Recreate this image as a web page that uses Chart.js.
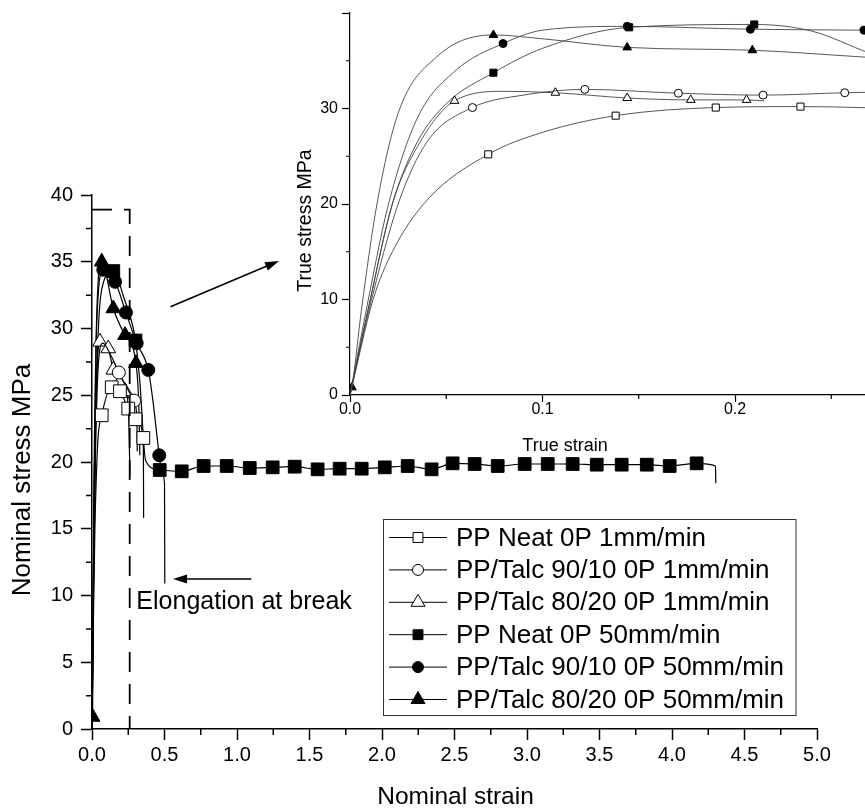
<!DOCTYPE html>
<html>
<head>
<meta charset="utf-8">
<script src="https://cdn.jsdelivr.net/npm/chart.js@4.4.1/dist/chart.umd.min.js"></script>
<style>
  html, body { margin: 0; padding: 0; background: #fff; overflow: hidden; }
  #wrap { position: relative; width: 865px; height: 812px; overflow: hidden; }
  #main { position: absolute; left: 0; top: 0; }
  #inset { position: absolute; left: 280px; top: 0; }
</style>
</head>
<body>
<div id="wrap">
  <canvas id="main" width="865" height="812"></canvas>
  <canvas id="inset" width="660" height="470"></canvas>
</div>
<script>
// --- series names / marker styles (legend order) ---
const seriesLabels = ['PP Neat 0P 1mm/min', 'PP/Talc 90/10 0P 1mm/min', 'PP/Talc 80/20 0P 1mm/min',
                      'PP Neat 0P 50mm/min', 'PP/Talc 90/10 0P 50mm/min', 'PP/Talc 80/20 0P 50mm/min'];
const seriesMarkers = ['rect', 'circle', 'triangle', 'rect', 'circle', 'triangle'];
const seriesFilled = [false, false, false, true, true, true];

// --- main chart: nominal strain / nominal stress (MPa) ---
const neat1Strain = [0, 0.008, 0.02, 0.04, 0.067, 0.136, 0.193, 0.25, 0.30, 0.354, 0.356];
const neat1Stress = [0, 7, 15, 21.5, 23.5, 25.6, 25.3, 24.0, 23.2, 21.8, 15.8];
const neat1Marks = [4, 5, 6, 7, 8, 9];

const talc90s1Strain = [0, 0.01, 0.025, 0.045, 0.075, 0.13, 0.185, 0.24, 0.29, 0.31, 0.312];
const talc90s1Stress = [0, 10, 21, 27.5, 28.9, 28.0, 26.7, 25.6, 24.6, 23.2, 20.8];
const talc90s1Marks = [6, 8];

const talc80s1Strain = [0, 0.01, 0.025, 0.055, 0.112, 0.147, 0.188, 0.228, 0.25, 0.262];
const talc80s1Stress = [0, 11, 23, 29.0, 28.5, 26.9, 25.9, 25.3, 24.3, 19];
const talc80s1Marks = [3, 4, 5, 6, 7];

const neat50Strain = [0, 0.004, 0.015, 0.04, 0.08, 0.147, 0.22, 0.30, 0.33, 0.37,
  0.467, 0.619, 0.770, 0.929, 1.088, 1.246, 1.398, 1.556, 1.708, 1.860, 2.019, 2.177,
  2.342, 2.487, 2.639, 2.798, 2.984, 3.143, 3.315, 3.481, 3.653, 3.826, 3.984, 4.170, 4.30, 4.302];
const neat50Stress = [0, 4, 18, 29, 33.5, 34.3, 32.3, 29.1, 26.0, 20.1,
  19.4, 19.3, 19.7, 19.7, 19.55, 19.6, 19.65, 19.45, 19.5, 19.5, 19.6, 19.7,
  19.45, 19.9, 19.85, 19.7, 19.85, 19.85, 19.85, 19.8, 19.8, 19.8, 19.7, 19.9, 19.7, 18.4];
const neat50Marks = [5, 7, 10, 11, 12, 13, 14, 15, 16, 17, 18, 19, 20, 21, 22, 23, 24, 25, 26, 27, 28, 29, 30, 31, 32, 33];

const talc90s50Strain = [0, 0.004, 0.015, 0.035, 0.078, 0.159, 0.234, 0.308, 0.388, 0.42, 0.464, 0.485, 0.50, 0.502];
const talc90s50Stress = [0, 5, 20, 31, 34.4, 33.5, 31.2, 28.9, 26.9, 24.6, 20.5, 19.1, 18.4, 10.9];
const talc90s50Marks = [4, 5, 6, 7, 8, 10];

const talc80s50Strain = [0, 0.004, 0.012, 0.03, 0.067, 0.147, 0.228, 0.303, 0.325, 0.33];
const talc80s50Stress = [0, 0.9, 15, 30, 35.0, 31.5, 29.5, 27.4, 23.5, 20.5];
const talc80s50Marks = [1, 4, 5, 6, 7];

// --- inset: true strain / true stress (MPa) ---
const tNeat1Strain = [0, 0.012, 0.022, 0.04, 0.0718, 0.10, 0.138, 0.19, 0.234, 0.30];
const tNeat1Stress = [0, 10, 15, 20.4, 25.2, 27.5, 29.25, 30.1, 30.2, 29.9];
const tNeat1Marks = [4, 6, 7, 8];

const tTalc90s1Strain = [0, 0.01, 0.025, 0.04, 0.0636, 0.09, 0.122, 0.1706, 0.2146, 0.257, 0.30];
const tTalc90s1Stress = [0, 9, 20, 26.5, 30.1, 31.4, 32.0, 31.6, 31.4, 31.65, 31.8];
const tTalc90s1Marks = [4, 6, 7, 8, 9];

const tTalc80s1Strain = [0, 0.01, 0.022, 0.035, 0.0543, 0.08, 0.1067, 0.144, 0.177, 0.206, 0.215];
const tTalc80s1Stress = [0, 9.5, 20, 26, 30.8, 31.8, 31.65, 31.1, 30.9, 30.9, 30.8];
const tTalc80s1Marks = [4, 6, 7, 8, 9];

const tNeat50Strain = [0, 0.01, 0.022, 0.035, 0.05, 0.0745, 0.10, 0.145, 0.21, 0.24, 0.27, 0.30];
const tNeat50Stress = [0, 9.5, 20, 26.5, 30.5, 33.75, 36.3, 38.5, 38.8, 38.1, 35.8, 34];
const tNeat50Marks = [5, 7, 8];

const tTalc90s50Strain = [0, 0.01, 0.02, 0.035, 0.055, 0.0795, 0.10, 0.144, 0.208, 0.267, 0.30];
const tTalc90s50Stress = [0, 10.5, 20, 29, 34, 36.8, 38.2, 38.6, 38.3, 38.2, 38.1];
const tTalc90s50Marks = [5, 7, 8, 9];

const tTalc80s50Strain = [0, 0.001, 0.006, 0.014, 0.025, 0.045, 0.0745, 0.10, 0.144, 0.209, 0.266, 0.30];
const tTalc80s50Stress = [0, 0.8, 9, 20, 29.5, 35.4, 37.7, 37.3, 36.4, 36.1, 35.4, 35.0];
const tTalc80s50Marks = [1, 6, 8, 9];

// --- annotations (in main-chart data units) ---
const boxStrain = 0.26, boxStress = 38.9;
const arrowUp = [0.541, 31.63, 1.29, 35.06];
const arrowLeft = [1.099, 11.24, 0.559, 11.24];
const breakText = 'Elongation at break';
const breakTextAt = [0.306, 8.96];

const FONT = "'Liberation Sans', Arial, sans-serif";
Chart.defaults.font.family = FONT;
Chart.defaults.color = '#000';

function pts(xs, ys) { return xs.map((x, i) => ({ x: x, y: ys[i] })); }

function makeSet(i, xs, ys, marks, radius, lineColor, lineWidth) {
  const style = seriesMarkers[i];
  return {
    label: seriesLabels[i],
    data: pts(xs, ys),
    borderColor: lineColor,
    borderWidth: lineWidth,
    cubicInterpolationMode: 'monotone',
    pointStyle: style,
    pointRadius: ctx => marks.includes(ctx.dataIndex) ? radius[style] : 0,
    pointHoverRadius: 0,
    pointBackgroundColor: seriesFilled[i] ? '#000' : '#fff',
    pointBorderColor: '#000',
    pointBorderWidth: 1
  };
}

function drawMarker(ctx, style, x, y, r, filled) {
  ctx.beginPath();
  if (style === 'rect') {
    const s = r * Math.SQRT1_2;
    ctx.rect(x - s, y - s, 2 * s, 2 * s);
  } else if (style === 'circle') {
    ctx.arc(x, y, r, 0, Math.PI * 2);
  } else {
    for (let k = 0; k < 3; k++) {
      const a = k * 2 * Math.PI / 3;
      const px = x + Math.sin(a) * r, py = y - Math.cos(a) * r;
      if (k) ctx.lineTo(px, py); else ctx.moveTo(px, py);
    }
    ctx.closePath();
  }
  ctx.fillStyle = filled ? '#000' : '#fff';
  ctx.fill();
  ctx.strokeStyle = '#000';
  ctx.lineWidth = 1;
  ctx.stroke();
}

function arrow(ctx, x1, y1, x2, y2) {
  const a = Math.atan2(y2 - y1, x2 - x1), L = 14, W = 4.5;
  ctx.beginPath();
  ctx.moveTo(x1, y1);
  ctx.lineTo(x2 - Math.cos(a) * L * 0.8, y2 - Math.sin(a) * L * 0.8);
  ctx.stroke();
  ctx.beginPath();
  ctx.moveTo(x2, y2);
  ctx.lineTo(x2 - Math.cos(a) * L + Math.sin(a) * W, y2 - Math.sin(a) * L - Math.cos(a) * W);
  ctx.lineTo(x2 - Math.cos(a) * L - Math.sin(a) * W, y2 - Math.sin(a) * L + Math.cos(a) * W);
  ctx.closePath();
  ctx.fill();
}

function rotatedText(ctx, text, x, y, font) {
  ctx.save();
  ctx.translate(x, y);
  ctx.rotate(-Math.PI / 2);
  ctx.font = font;
  ctx.textAlign = 'center';
  ctx.textBaseline = 'middle';
  ctx.fillText(text, 0, 0);
  ctx.restore();
}

// short unlabelled ticks half-way between the labelled ones
const minorTicks = {
  id: 'minorTicks',
  afterDraw(chart, args, o) {
    const { ctx, scales: { x, y } } = chart;
    ctx.save();
    ctx.strokeStyle = '#000';
    ctx.lineWidth = o.width;
    ctx.beginPath();
    for (let k = 1; k * o.xStep < x.max - 1e-9; k += 2) {
      const px = x.getPixelForValue(k * o.xStep);
      ctx.moveTo(px, y.bottom); ctx.lineTo(px, y.bottom + o.len);
    }
    for (let k = 1; k * o.yStep < y.max - 1e-9; k += 2) {
      const py = y.getPixelForValue(k * o.yStep);
      ctx.moveTo(x.left, py); ctx.lineTo(x.left - o.len, py);
    }
    ctx.stroke();
    ctx.restore();
  }
};

// titles, dashed box, arrows, legend of the main chart
const mainDecor = {
  id: 'mainDecor',
  afterDraw(chart) {
    const { ctx, scales: { x, y } } = chart;
    ctx.save();
    ctx.fillStyle = '#000';
    ctx.strokeStyle = '#000';

    // axis titles
    rotatedText(ctx, 'Nominal stress MPa', 22.5, 480, '26px ' + FONT);
    ctx.font = '24.5px ' + FONT;
    ctx.textAlign = 'center';
    ctx.textBaseline = 'middle';
    ctx.fillText('Nominal strain', (x.left + x.right) / 2 + 1, 797);

    // dashed box around the yield region
    ctx.lineWidth = 1.8;
    ctx.setLineDash([20, 12]);
    ctx.beginPath();
    ctx.moveTo(x.left, y.getPixelForValue(boxStress));
    ctx.lineTo(x.getPixelForValue(boxStrain), y.getPixelForValue(boxStress));
    ctx.lineTo(x.getPixelForValue(boxStrain), y.bottom);
    ctx.stroke();
    ctx.setLineDash([]);

    // arrows
    ctx.lineWidth = 1.5;
    arrow(ctx, x.getPixelForValue(arrowUp[0]), y.getPixelForValue(arrowUp[1]),
               x.getPixelForValue(arrowUp[2]), y.getPixelForValue(arrowUp[3]));
    arrow(ctx, x.getPixelForValue(arrowLeft[0]), y.getPixelForValue(arrowLeft[1]),
               x.getPixelForValue(arrowLeft[2]), y.getPixelForValue(arrowLeft[3]));

    ctx.font = '25px ' + FONT;
    ctx.textAlign = 'left';
    ctx.textBaseline = 'alphabetic';
    ctx.fillText(breakText, x.getPixelForValue(breakTextAt[0]), y.getPixelForValue(breakTextAt[1]));

    // legend
    const lx = 383.5, ly = 519.5, lw = 412.5, lh = 196;
    ctx.fillStyle = '#fff';
    ctx.fillRect(lx, ly, lw, lh);
    ctx.strokeStyle = '#333';
    ctx.lineWidth = 1;
    ctx.strokeRect(lx, ly, lw, lh);
    const legR = { rect: 7, circle: 5.5, triangle: 8 };
    ctx.font = '26px ' + FONT;
    ctx.textBaseline = 'middle';
    seriesLabels.forEach((lab, i) => {
      const ry = 537.5 + i * 32.4;
      ctx.strokeStyle = '#000';
      ctx.lineWidth = 1;
      ctx.beginPath();
      ctx.moveTo(389, ry); ctx.lineTo(447, ry);
      ctx.stroke();
      drawMarker(ctx, seriesMarkers[i], 418, ry, legR[seriesMarkers[i]], seriesFilled[i]);
      ctx.fillStyle = '#000';
      ctx.fillText(lab, 456, ry + 1);
    });
    ctx.restore();
  }
};

const insetDecor = {
  id: 'insetDecor',
  afterDraw(chart) {
    const { ctx } = chart;
    ctx.save();
    ctx.fillStyle = '#000';
    rotatedText(ctx, 'True stress MPa', 306 - 280, 220.5, '19.5px ' + FONT);
    ctx.font = '18px ' + FONT;
    ctx.textAlign = 'center';
    ctx.textBaseline = 'middle';
    ctx.fillText('True strain', 565 - 280, 446);
    ctx.restore();
  }
};

const mainRadius = { rect: 9, circle: 6.5, triangle: 8.5 };
const insetRadius = { rect: 5, circle: 4, triangle: 5 };

const mainData = [
  [neat1Strain, neat1Stress, neat1Marks],
  [talc90s1Strain, talc90s1Stress, talc90s1Marks],
  [talc80s1Strain, talc80s1Stress, talc80s1Marks],
  [neat50Strain, neat50Stress, neat50Marks],
  [talc90s50Strain, talc90s50Stress, talc90s50Marks],
  [talc80s50Strain, talc80s50Stress, talc80s50Marks]
];
const insetData = [
  [tNeat1Strain, tNeat1Stress, tNeat1Marks],
  [tTalc90s1Strain, tTalc90s1Stress, tTalc90s1Marks],
  [tTalc80s1Strain, tTalc80s1Stress, tTalc80s1Marks],
  [tNeat50Strain, tNeat50Stress, tNeat50Marks],
  [tTalc90s50Strain, tTalc90s50Stress, tTalc90s50Marks],
  [tTalc80s50Strain, tTalc80s50Stress, tTalc80s50Marks]
];

function axis(min, max, step, fontSize, tickLen, pad, width, fmt) {
  return {
    type: 'linear', min: min, max: max,
    grid: { drawOnChartArea: false, drawTicks: true, tickLength: tickLen, tickWidth: width, tickColor: '#000' },
    border: { display: true, color: '#000', width: width },
    ticks: { stepSize: step, padding: pad, font: { size: fontSize, lineHeight: 1 }, color: '#000', callback: fmt, maxRotation: 0 }
  };
}

// --- main chart ---
const mainX = axis(0, 5, 0.5, 20, 11, 5, 1.5, v => v.toFixed(1));
mainX.afterFit = s => { s.height = 83; };
const mainY = axis(0, 40, 5, 20, 11, 8, 1.5, v => String(v));
mainY.afterFit = s => { s.width = 92; };

new Chart(document.getElementById('main').getContext('2d'), {
  type: 'line',
  data: { datasets: mainData.map((d, i) => makeSet(i, d[0], d[1], d[2], mainRadius, '#000', 1.2)) },
  options: {
    responsive: false,
    animation: false,
    events: [],
    layout: { padding: { left: 0, right: 48, top: 195, bottom: 0 } },
    scales: { x: mainX, y: mainY },
    plugins: {
      legend: { display: false },
      tooltip: { enabled: false },
      minorTicks: { xStep: 0.25, yStep: 2.5, len: 6, width: 1.5 }
    }
  },
  plugins: [minorTicks, mainDecor]
});

// --- inset chart ---
const insetX = axis(0, 0.3, 0.1, 16, 7, 0, 1.2, v => v.toFixed(1));
insetX.afterFit = s => { s.height = 75; };
const insetY = axis(0, 40, 10, 16, 8, 4, 1.2, v => v === 40 ? '' : String(v));
insetY.afterFit = s => { s.width = 70; };

new Chart(document.getElementById('inset').getContext('2d'), {
  type: 'line',
  data: { datasets: insetData.map((d, i) => makeSet(i, d[0], d[1], d[2], insetRadius, '#444', 0.9)) },
  options: {
    responsive: false,
    animation: false,
    events: [],
    layout: { padding: { left: 0, right: 12.5, top: 13, bottom: 0 } },
    scales: { x: insetX, y: insetY },
    plugins: {
      legend: { display: false },
      tooltip: { enabled: false },
      minorTicks: { xStep: 0.05, yStep: 5, len: 4, width: 1.2 }
    }
  },
  plugins: [minorTicks, insetDecor]
});
</script>
</body>
</html>
